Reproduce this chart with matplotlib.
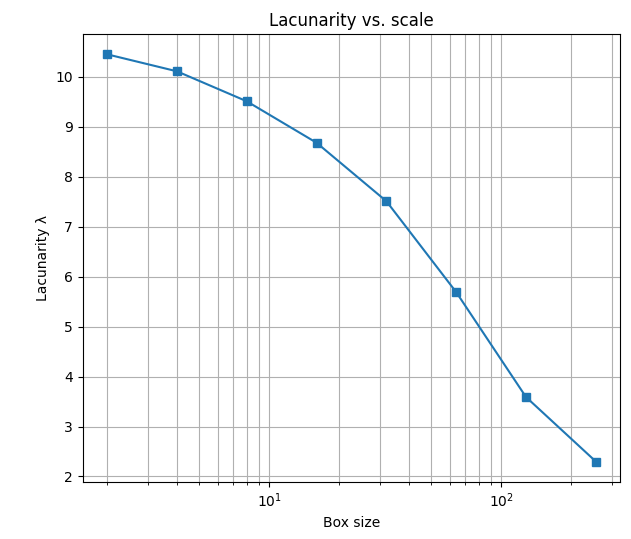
import matplotlib
matplotlib.use("Agg")
import matplotlib.pyplot as plt

box_sizes = [2, 4, 8, 16, 32, 64, 128, 256]
lacunarity = [10.45, 10.11, 9.51, 8.68, 7.51, 5.69, 3.59, 2.30]

fig, ax = plt.subplots(figsize=(6.31, 5.39), dpi=100)
fig.subplots_adjust(left=0.131, right=0.983, top=0.937, bottom=0.106)

ax.plot(box_sizes, lacunarity, marker="s", color="#1f77b4")
ax.set_xscale("log")
ax.set_xlabel("Box size")
ax.set_ylabel("Lacunarity λ")
ax.set_title("Lacunarity vs. scale")
ax.grid(True, which="both")

fig.savefig("out.png", dpi=100)
